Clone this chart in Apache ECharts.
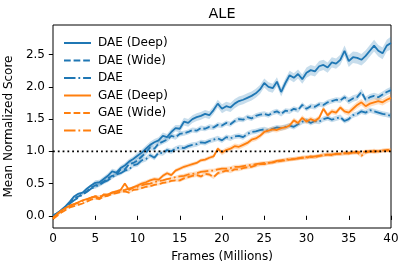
<!DOCTYPE html>
<html>
<head>
<meta charset="utf-8">
<script src="https://cdn.jsdelivr.net/npm/echarts@6/dist/echarts.min.js"></script>
<style>html,body{margin:0;padding:0;background:#fff}#c{width:407px;height:274px}</style>
</head>
<body>
<div id="c"></div>
<script>
const FRAMES = Array.from({length: 81}, (_, i) => i * 0.5);
const X_TICKS = [0, 5, 10, 15, 20, 25, 30, 35, 40];
const Y_TICKS = [0, 0.5, 1.0, 1.5, 2.0, 2.5];
const NAMES = ['DAE (Deep)', 'DAE (Wide)', 'DAE', 'GAE (Deep)', 'GAE (Wide)', 'GAE'];
const REFERENCE = 1.0;

const DAE_DEEP = [0.00,0.04,0.09,0.15,0.22,0.30,0.34,0.36,0.42,0.47,0.51,0.52,0.57,0.62,0.69,0.67,0.74,0.78,0.84,0.88,
0.93,0.98,1.04,1.10,1.14,1.17,1.24,1.22,1.30,1.36,1.35,1.46,1.44,1.50,1.53,1.55,1.58,1.56,1.64,1.74,
1.66,1.70,1.68,1.74,1.78,1.80,1.83,1.86,1.90,1.96,2.06,2.00,1.98,2.08,1.92,2.06,2.18,2.14,2.20,2.12,
2.22,2.26,2.24,2.32,2.34,2.30,2.38,2.36,2.42,2.56,2.40,2.46,2.45,2.42,2.48,2.56,2.64,2.56,2.52,2.64,2.68];
const DAE_WIDE = [0.00,0.04,0.09,0.14,0.20,0.27,0.30,0.34,0.38,0.44,0.47,0.49,0.53,0.58,0.62,0.64,0.72,0.72,0.80,0.82,
0.86,0.92,0.98,1.06,1.04,1.12,1.15,1.18,1.24,1.22,1.27,1.28,1.30,1.33,1.32,1.36,1.35,1.38,1.37,1.41,
1.40,1.44,1.42,1.47,1.50,1.49,1.53,1.51,1.55,1.57,1.58,1.56,1.60,1.62,1.58,1.63,1.62,1.66,1.64,1.72,
1.66,1.70,1.69,1.73,1.72,1.76,1.78,1.80,1.79,1.84,1.78,1.82,1.84,1.92,1.80,1.84,1.86,1.84,1.88,1.92,1.95];
const DAE_BASE = [0.00,0.04,0.08,0.13,0.19,0.24,0.28,0.33,0.37,0.42,0.45,0.48,0.52,0.55,0.60,0.64,0.66,0.70,0.72,0.78,
0.80,0.86,0.88,0.94,0.90,0.98,0.97,1.02,1.00,1.04,1.06,1.05,1.08,1.10,1.11,1.14,1.13,1.16,1.18,1.20,
1.17,1.22,1.20,1.23,1.24,1.22,1.27,1.30,1.31,1.33,1.34,1.32,1.35,1.37,1.36,1.38,1.40,1.38,1.42,1.46,
1.48,1.44,1.47,1.46,1.50,1.52,1.49,1.51,1.53,1.47,1.50,1.56,1.58,1.62,1.60,1.64,1.62,1.60,1.58,1.57,1.55];
const GAE_DEEP = [-0.05,0.02,0.08,0.12,0.16,0.18,0.21,0.24,0.26,0.28,0.30,0.27,0.33,0.32,0.36,0.38,0.40,0.50,0.40,0.44,
0.47,0.50,0.52,0.55,0.57,0.56,0.62,0.66,0.63,0.70,0.73,0.76,0.78,0.80,0.82,0.86,0.87,0.90,0.92,1.04,
0.98,1.02,1.04,1.08,1.07,1.10,1.13,1.18,1.20,1.24,1.30,1.32,1.34,1.33,1.36,1.37,1.40,1.48,1.44,1.52,
1.46,1.50,1.47,1.52,1.66,1.56,1.62,1.60,1.68,1.62,1.60,1.66,1.72,1.76,1.70,1.74,1.76,1.78,1.76,1.80,1.83];
const GAE_WIDE = [-0.05,0.00,0.05,0.09,0.13,0.15,0.17,0.19,0.22,0.25,0.27,0.26,0.30,0.31,0.34,0.35,0.37,0.38,0.36,0.40,
0.41,0.43,0.45,0.46,0.48,0.49,0.51,0.52,0.54,0.55,0.55,0.58,0.60,0.62,0.63,0.61,0.65,0.64,0.60,0.66,
0.68,0.70,0.69,0.72,0.72,0.74,0.75,0.76,0.78,0.80,0.80,0.82,0.83,0.84,0.85,0.86,0.87,0.88,0.89,0.90,
0.90,0.92,0.91,0.93,0.94,0.95,0.94,0.96,0.96,0.97,0.97,0.98,0.99,0.98,1.00,1.00,1.01,1.00,1.01,1.02,1.02];
const GAE_BASE = [-0.03,0.03,0.08,0.12,0.15,0.18,0.20,0.23,0.25,0.28,0.30,0.30,0.32,0.33,0.36,0.37,0.39,0.40,0.42,0.44,
0.45,0.47,0.49,0.50,0.52,0.54,0.55,0.57,0.58,0.60,0.61,0.62,0.64,0.65,0.66,0.68,0.69,0.70,0.70,0.72,
0.73,0.73,0.74,0.76,0.76,0.77,0.78,0.79,0.80,0.81,0.82,0.82,0.83,0.85,0.86,0.87,0.88,0.88,0.89,0.90,
0.91,0.91,0.92,0.93,0.94,0.95,0.95,0.96,0.96,0.97,0.97,0.98,0.98,0.93,0.98,1.00,0.99,1.00,1.01,1.01,1.01];

// band half-widths, one value per 5M-frame segment
const DAE_DEEP_BAND = [0.02,0.04,0.05,0.06,0.07,0.07,0.08,0.09,0.10];
const DAE_WIDE_BAND = [0.01,0.03,0.04,0.04,0.04,0.04,0.04,0.05,0.05];
const DAE_BASE_BAND = [0.01,0.03,0.04,0.04,0.04,0.04,0.04,0.04,0.04];
const GAE_DEEP_BAND = [0.01,0.02,0.03,0.03,0.04,0.04,0.04,0.05,0.05];
const GAE_WIDE_BAND = [0.01,0.02,0.02,0.03,0.03,0.03,0.03,0.03,0.03];
const GAE_BASE_BAND = [0.01,0.02,0.02,0.03,0.03,0.03,0.03,0.03,0.03];

const BLUE = '#1f77b4', ORANGE = '#ff7f0e';
const DASH = [6.7, 2.9], DASHDOT = [11.5, 2.9, 1.8, 2.9];
const SERIES = [
  {name: NAMES[0], vals: DAE_DEEP, band: DAE_DEEP_BAND, color: BLUE, type: 'solid'},
  {name: NAMES[1], vals: DAE_WIDE, band: DAE_WIDE_BAND, color: BLUE, type: DASH},
  {name: NAMES[2], vals: DAE_BASE, band: DAE_BASE_BAND, color: BLUE, type: DASHDOT},
  {name: NAMES[3], vals: GAE_DEEP, band: GAE_DEEP_BAND, color: ORANGE, type: 'solid'},
  {name: NAMES[4], vals: GAE_WIDE, band: GAE_WIDE_BAND, color: ORANGE, type: DASH},
  {name: NAMES[5], vals: GAE_BASE, band: GAE_BASE_BAND, color: ORANGE, type: DASHDOT}
];

const FONT = 'DejaVu Sans';
const series = [];
SERIES.forEach((s, k) => {
  const rows = FRAMES.map((x, i) => {
    const h = s.band[Math.min(s.band.length - 1, Math.floor(i / 10))];
    return [x, s.vals[i] - h, s.vals[i] + h];
  });
  series.push({
    type: 'custom',
    name: s.name + ' band',
    data: rows,
    encode: {x: 0, y: [1, 2]},
    z: 1 + k * 2,
    silent: true,
    clip: true,
    renderItem: function (params, api) {
      if (params.dataIndex !== 0) return;
      const up = rows.map(r => api.coord([r[0], r[2]]));
      const lo = rows.map(r => api.coord([r[0], r[1]])).reverse();
      return {
        type: 'polygon',
        shape: {points: up.concat(lo)},
        style: {fill: s.color, opacity: 0.25}
      };
    }
  });
  series.push({
    type: 'line',
    name: s.name,
    data: FRAMES.map((x, i) => [x, s.vals[i]]),
    showSymbol: false,
    symbol: 'none',
    z: 2 + k * 2,
    color: s.color,
    lineStyle: {color: s.color, width: 1.8, type: s.type},
    clip: true
  });
});
series.push({
  type: 'line',
  name: 'ref',
  data: [[0, REFERENCE], [40, REFERENCE]],
  symbol: 'none',
  z: 20,
  lineStyle: {color: '#000', width: 1.8, type: [1.8, 3]},
  silent: true
});

const chart = echarts.init(document.getElementById('c'), null, {renderer: 'canvas'});
chart.setOption({
  animation: false,
  backgroundColor: '#fff',
  title: {text: 'ALE', left: 222, top: 7, padding: 0, textAlign: 'center',
    textStyle: {fontFamily: FONT, fontSize: 14.4, fontWeight: 'normal', color: '#000'}},
  grid: {left: 53, right: 16, top: 25, bottom: 46, containLabel: false, outerBoundsMode: 'none',
    show: true, borderColor: '#000', borderWidth: 1, backgroundColor: 'transparent'},
  legend: {
    data: NAMES, orient: 'vertical', left: 63, top: 37, padding: 0,
    itemWidth: 27, itemHeight: 12, itemGap: 5.5,
    itemStyle: {opacity: 0},
    textStyle: {fontFamily: FONT, fontSize: 12, color: '#000', lineHeight: 12, padding: [0, 0, 0, 2]},
    selectedMode: false
  },
  xAxis: {
    type: 'value', min: 0, max: 40, interval: 5,
    name: 'Frames (Millions)', nameLocation: 'middle', nameGap: 23,
    nameTextStyle: {fontFamily: FONT, fontSize: 12, color: '#000'},
    axisLine: {show: false},
    axisTick: {show: true, inside: false, length: 4.2, lineStyle: {color: '#000', width: 1}},
    axisLabel: {fontFamily: FONT, fontSize: 12, color: '#000', margin: 5},
    splitLine: {show: false}
  },
  yAxis: {
    type: 'value', min: -0.19, max: 2.96,
    name: 'Mean Normalized Score', nameLocation: 'middle', nameGap: 32,
    nameTextStyle: {fontFamily: FONT, fontSize: 12, color: '#000'},
    axisLine: {show: false},
    axisTick: {show: true, inside: false, length: 4.2, lineStyle: {color: '#000', width: 1}, customValues: Y_TICKS},
    axisLabel: {fontFamily: FONT, fontSize: 12, color: '#000', margin: 8, customValues: Y_TICKS,
      formatter: v => v.toFixed(1)},
    splitLine: {show: false}
  },
  series: series
});
</script>
</body>
</html>
